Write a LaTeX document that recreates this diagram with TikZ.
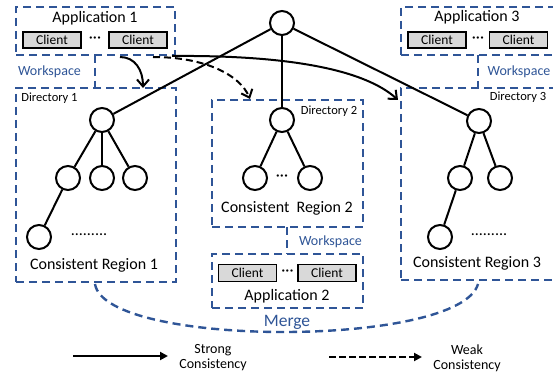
\documentclass[tikz,border=0pt]{standalone}
\usepackage{fontspec}
\setmainfont{Carlito}
\usetikzlibrary{arrows.meta}
\definecolor{dblue}{RGB}{47,85,151}
\definecolor{cgray}{RGB}{217,217,217}
\begin{document}
\begin{tikzpicture}[x=1pt,y=-1pt,
  box/.style={draw=dblue, line width=2.4pt, dash pattern=on 8pt off 5pt, inner sep=0pt, outer sep=0pt},
  wsl/.style={draw=dblue, line width=2.4pt, dash pattern=on 8pt off 5pt},
  tn/.style={circle, draw, line width=2pt, minimum size=24pt, inner sep=0pt, fill=white},
  client/.style={draw, fill=cgray, line width=1.6pt, minimum width=58pt, minimum height=16pt, inner sep=0pt, font=\fontsize{13.5}{14}\selectfont},
  edge/.style={line width=2pt},
  lbl/.style={font=\fontsize{16}{18}\selectfont, inner sep=0pt},
  ws/.style={text=dblue, font=\fontsize{14}{16}\selectfont, inner sep=0pt},
  dirl/.style={font=\fontsize{12.5}{14}\selectfont, inner sep=0pt},
  leg/.style={font=\fontsize{14}{15}\selectfont, inner sep=0pt, align=center},
  arr/.style={line width=2pt, -{Straight Barb[length=7pt,width=12pt,line width=2pt]}},
  darr/.style={arr, dash pattern=on 7pt off 4pt}]
\path[use as bounding box] (0,0) rectangle (553,374);
\clip (0,0) rectangle (553,374);
\fill[white] (0,0) rectangle (553,374);

% boxes
\node[box, minimum width=159pt, minimum height=48pt] (app1) at (95.5,31) {};
\node[box, minimum width=160pt, minimum height=194pt] (dir1) at (96,185) {};
\node[box, minimum width=151pt, minimum height=127pt] (dir2) at (287.5,163.5) {};
\node[box, minimum width=151pt, minimum height=54pt] (app2) at (287.5,281) {};
\node[box, minimum width=164pt, minimum height=48pt] (app3) at (483,31) {};
\node[box, minimum width=164pt, minimum height=192pt] (dir3) at (483,184) {};

\draw[wsl] ([xshift=79pt]app1.south west) -- ([xshift=79pt]dir1.north west);
\draw[wsl] ([xshift=75pt]dir2.south west) -- ([xshift=75pt]app2.north west);
\draw[wsl] ([xshift=77pt]app3.south west) -- ([xshift=77pt]dir3.north west);

% application 1
\node[lbl] (a1t) at (95,18) {Application 1};
\node[client] (c11) at (52,40) {Client};
\node[client] (c12) at (138,40) {Client};
\node[lbl] (a1d) at (95,40) {···};
\node[ws] (w1) at (49.5,72) {Workspace};
\node[dirl] (d1t) at (49.5,98) {Directory 1};

% application 3
\node[lbl] (a3t) at (477,17) {Application 3};
\node[client] (c31) at (437,40) {Client};
\node[client] (c32) at (518.5,40) {Client};
\node[lbl] (a3d) at (478,40) {···};
\node[ws] (w3) at (519,72) {Workspace};
\node[dirl] (d3t) at (518,97) {Directory 3};

% application 2
\node[client, minimum height=17pt] (c21) at (247.5,273) {Client};
\node[client, minimum height=17pt] (c22) at (327,273) {Client};
\node[lbl] (a2d) at (287.5,273) {···};
\node[lbl] (a2t) at (287,296) {Application 2};
\node[ws] (w2) at (330.5,242) {Workspace};
\node[dirl] (d2t) at (329,111) {Directory 2};

% trees
\node[tn] (root) at (282,23) {};
\node[tn] (r1) at (102,120) {};
\node[tn] (r2) at (282,120) {};
\node[tn] (r3) at (479,121) {};
\node[tn] (n11) at (68,178) {};
\node[tn] (n12) at (102,178) {};
\node[tn] (n13) at (135,178) {};
\node[tn] (n14) at (39,237) {};
\node[tn] (n21) at (255,178) {};
\node[tn] (n22) at (310,178) {};
\node[tn] (n31) at (460,178) {};
\node[tn] (n32) at (500,178) {};
\node[tn] (n33) at (440,237) {};

\draw[edge] (root) -- (r1);
\draw[edge] (root) -- (r2);
\draw[edge] (root) -- (r3);
\draw[edge] (r1) -- (n11);
\draw[edge] (r1) -- (n12);
\draw[edge] (r1) -- (n13);
\draw[edge] (n11) -- (n14);
\draw[edge] (r2) -- (n21);
\draw[edge] (r2) -- (n22);
\draw[edge] (r3) -- (n31);
\draw[edge] (r3) -- (n32);
\draw[edge] (n31) -- (n33);

\node[lbl] (dots1) at (89,235) {.........};
\node[lbl] (dots2) at (282,178) {···};
\node[lbl] (dots3) at (489,235) {.........};
\node[lbl] (cr1) at (94,265) {Consistent~Region 1};
\node[lbl] (cr2) at (287,208) {Consistent~~Region 2};
\node[lbl] (cr3) at (477,263) {Consistent~Region 3};

% arrows
\coordinate (s1) at (120,57);
\coordinate (s2) at (153,57);
\coordinate (s3) at (172,56);
\coordinate (e1) at (143,88);
\coordinate (e2) at (250,99);
\coordinate (e3) at (398,100);
\draw[arr] (s1) .. controls (135,57) and (143,70) .. (e1);
\draw[darr] (s2) .. controls (205,57) and (240,75) .. (e2);
\draw[arr] (s3) .. controls (290,55) and (365,70) .. (e3);

% merge
\coordinate (m1) at (95,284);
\coordinate (m2) at (478,284);
\draw[wsl] (m1) .. controls (105,348) and (460,348) .. (m2);
\node[text=dblue, font=\fontsize{17.5}{19}\selectfont, fill=white, inner sep=1pt] (merge) at (287,322) {Merge};

% legend
\coordinate (l1a) at (73,356);
\coordinate (l1b) at (168,356);
\coordinate (l2a) at (329,357);
\coordinate (l2b) at (422,357);
\draw[line width=2pt, -{Triangle[length=8pt,width=8pt]}] (l1a) -- (l1b);
\draw[line width=2pt, dash pattern=on 7pt off 3pt, -{Triangle[length=8pt,width=8pt]}] (l2a) -- (l2b);
\node[leg] (lg1) at (213,358) {Strong\\Consistency};
\node[leg] (lg2) at (467,358) {Weak\\Consistency};
\end{tikzpicture}
\end{document}
